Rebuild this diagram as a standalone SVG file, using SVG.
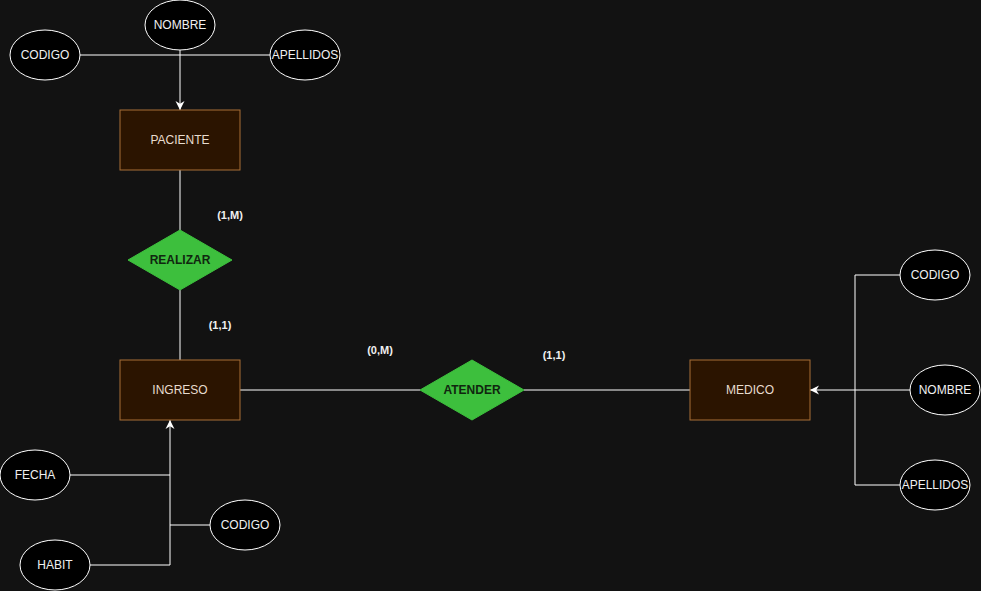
<svg xmlns="http://www.w3.org/2000/svg" width="981" height="591" viewBox="0 0 981 591">
<defs>
<marker id="arr" viewBox="0 0 10 10" refX="10" refY="5" markerWidth="9" markerHeight="10" orient="auto" markerUnits="userSpaceOnUse">
<path d="M0,0 L10,5 L0,10 L3,5 Z" fill="#ffffff"/>
</marker>
<style>
.ent rect{fill:#2b1400;stroke:#a86e36;stroke-width:1}
.ent text{fill:#e8dccf;font-family:"Liberation Sans",Arial,sans-serif;font-size:12px;text-anchor:middle;dominant-baseline:central}
.att ellipse{fill:#000000;stroke:#ffffff;stroke-width:1}
.att text{fill:#f0f0f0;font-family:"Liberation Sans",Arial,sans-serif;font-size:12px;text-anchor:middle;dominant-baseline:central}
.rel polygon{fill:#3dbf3d;stroke:#3dbf3d}
.rel text{fill:#10260f;font-family:"Liberation Sans",Arial,sans-serif;font-size:12px;font-weight:bold;text-anchor:middle;dominant-baseline:central}
.lab{fill:#f0f0f0;font-family:"Liberation Sans",Arial,sans-serif;font-size:11px;font-weight:bold;text-anchor:middle;dominant-baseline:central}
.conn path{fill:none;stroke:#ffffff;stroke-width:1}
</style>
</defs>
<rect width="981" height="591" fill="#121212"/>
<g id="connectors" class="conn">
<path d="M80,55 H270"/>
<path d="M180,50 V110" marker-end="url(#arr)"/>
<path d="M180,170 V230"/>
<path d="M180,290 V360"/>
<path d="M240,390 H420"/>
<path d="M524,390 H690"/>
<path d="M900,275 H855 V485 H900"/>
<path d="M910,390 H810" marker-end="url(#arr)"/>
<path d="M90,565 H170 V420" marker-end="url(#arr)"/>
<path d="M70,475 H170"/>
<path d="M210,525 H170"/>
</g>
<g id="paciente" class="ent"><rect x="120" y="110" width="120" height="60"/><text x="180" y="140">PACIENTE</text></g>
<g id="ingreso" class="ent"><rect x="120" y="360" width="120" height="60"/><text x="180" y="390">INGRESO</text></g>
<g id="medico" class="ent"><rect x="690" y="360" width="120" height="60"/><text x="750" y="390">MEDICO</text></g>
<g id="realizar" class="rel"><polygon points="180,230 232,260 180,290 128,260"/><text x="180" y="260">REALIZAR</text></g>
<g id="atender" class="rel"><polygon points="472,360 524,390 472,420 420,390"/><text x="472" y="390">ATENDER</text></g>
<g id="p-nombre" class="att"><ellipse cx="180" cy="25" rx="35" ry="25"/><text x="180" y="25">NOMBRE</text></g>
<g id="p-codigo" class="att"><ellipse cx="45" cy="55" rx="35" ry="25"/><text x="45" y="55">CODIGO</text></g>
<g id="p-apellidos" class="att"><ellipse cx="305" cy="55" rx="35" ry="25"/><text x="305" y="55">APELLIDOS</text></g>
<g id="m-codigo" class="att"><ellipse cx="935" cy="275" rx="35" ry="25"/><text x="935" y="275">CODIGO</text></g>
<g id="m-nombre" class="att"><ellipse cx="945" cy="390" rx="35" ry="25"/><text x="945" y="390">NOMBRE</text></g>
<g id="m-apellidos" class="att"><ellipse cx="935" cy="485" rx="35" ry="25"/><text x="935" y="485">APELLIDOS</text></g>
<g id="i-fecha" class="att"><ellipse cx="35" cy="475" rx="35" ry="25"/><text x="35" y="475">FECHA</text></g>
<g id="i-codigo" class="att"><ellipse cx="245" cy="525" rx="35" ry="25"/><text x="245" y="525">CODIGO</text></g>
<g id="i-habit" class="att"><ellipse cx="55" cy="565" rx="35" ry="25"/><text x="55" y="565">HABIT</text></g>
<g id="labels">
<text class="lab" x="230" y="215">(1,M)</text>
<text class="lab" x="220" y="325">(1,1)</text>
<text class="lab" x="380" y="350">(0,M)</text>
<text class="lab" x="554" y="355">(1,1)</text>
</g>
</svg>
